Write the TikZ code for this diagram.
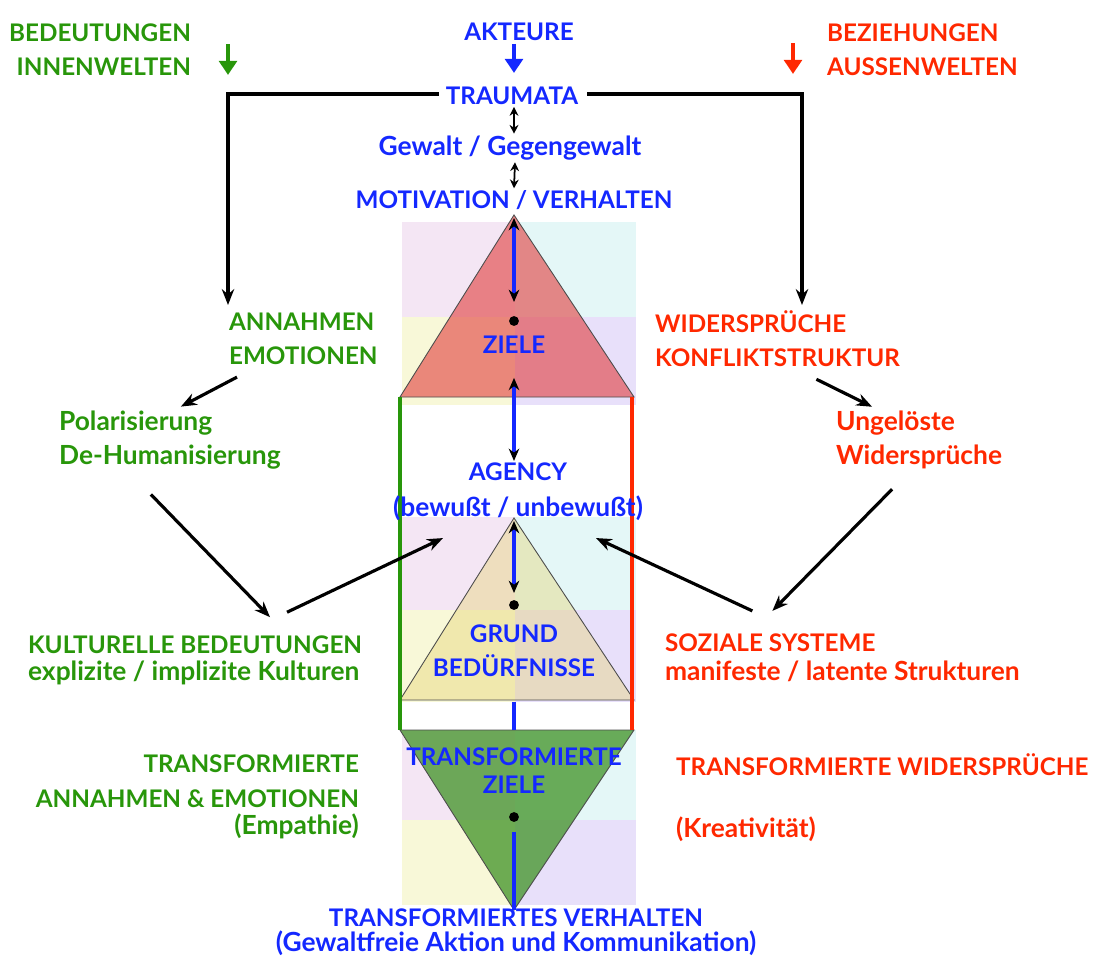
\documentclass[tikz,border=0pt]{standalone}
\usepackage{fontspec}
\setmainfont{Lato}
\usetikzlibrary{calc,arrows.meta}
\definecolor{gruen}{RGB}{40,150,10}
\definecolor{blau}{RGB}{20,40,255}
\definecolor{rot}{RGB}{255,40,0}
\definecolor{qrosa}{RGB}{244,230,244}
\definecolor{qcyan}{RGB}{228,247,247}
\definecolor{qgelb}{RGB}{248,248,216}
\definecolor{qlila}{RGB}{232,224,250}
\newcommand\gemischt{\fontsize{15}{19.5}\selectfont}
\tikzset{
    txt/.style={font=\fontsize{13.8}{19.5}\selectfont\bfseries,inner sep=1pt},
    gm/.style={font=\gemischt\bfseries},
    gr/.style={txt,text=gruen},
    bl/.style={txt,text=blau},
    rt/.style={txt,text=rot},
    pfeil/.style={line width=1.8pt,-{Stealth[length=9pt,width=7pt]}},
    kleinpfeil/.style={line width=1pt,{Stealth[length=5pt,width=5pt]}-{Stealth[length=5pt,width=5pt]}},
    blaupfeil/.style={blau,line width=1.9pt,{Stealth[black,length=7pt,width=6pt]}-{Stealth[black,length=7pt,width=6pt]}},
    farbpfeil/.style={line width=2.4pt,-{Triangle[length=8pt,width=10pt]}},
    dreieck/.style={draw=black!70,line width=0.5pt},
  }
\begin{document}
\begin{tikzpicture}[x=0.02cm,y=-0.02cm]
				  \useasboundingbox (0,0) rectangle (1093,960);
				  %Hintergrund Quadranten
				  \foreach \a/\b/\c in {222/317/405,517/610/702,730/820/905}{
				    \fill[qrosa] (402,\a) rectangle (515,\b);
				    \fill[qcyan] (515,\a) rectangle (636,\b);
				    \fill[qgelb] (402,\b) rectangle (515,\c);
				    \fill[qlila] (515,\b) rectangle (636,\c);
				  }
				  %Dreiecke
				  \coordinate (Z1) at (514,215); \coordinate (Z2) at (400,397); \coordinate (Z3) at (634,397);
				  \coordinate (G1) at (514,518); \coordinate (G2) at (400,700); \coordinate (G3) at (634,700);
				  \coordinate (T1) at (400,730); \coordinate (T2) at (634,730); \coordinate (T3) at (514,910);
				  \filldraw[dreieck,fill={rgb,255:red,225;green,60;blue,60},fill opacity=0.6] (Z1) -- (Z2) -- (Z3) -- cycle;
				  \filldraw[dreieck,fill={rgb,255:red,230;green,210;blue,110},fill opacity=0.4] (G1) -- (G2) -- (G3) -- cycle;
				  \filldraw[dreieck,fill={rgb,255:red,70;green,150;blue,45},fill opacity=0.78] (T1) -- (T2) -- (T3) -- cycle;
				  %Rechteck
				  \draw[gruen,line width=2pt] (Z2) -- (T1);
				  \draw[rot,line width=2pt] (632,397) -- (632,730);
				  \draw[blau,line width=1.9pt] (514,702) -- (514,730);
				  %Punkte
				  \coordinate (P1) at (514,321); \coordinate (P2) at (514,605); \coordinate (P3) at (514,817);
				  \foreach \p in {P1,P2,P3} \fill (\p) circle (2.8pt);
				  %Mitte
				  \node[bl] (akteure) at (519,32) {AKTEURE};
				  \node[bl] (traumata) at (512,96) {TRAUMATA};
				  \node[bl,gm] (gewalt) at (510,148) {Gewalt / Gegengewalt};
				  \node[bl] (motivation) at (514,200) {MOTIVATION / VERHALTEN};
				  \node[bl] (ziele) at (514,345) {ZIELE};
				  \node[bl,align=center] (agency) at (518,492) {AGENCY\\[1pt]\gemischt(bewußt / unbewußt)};
				  \node[bl,align=center] (grund) at (514,651) {GRUND\\BEDÜRFNISSE};
				  \node[bl,align=center] (transZ) at (514,771) {TRANSFORMIERTE\\[-3.5pt]ZIELE};
				  \node[bl,align=center] (transV) at (516,932) {TRANSFORMIERTES VERHALTEN\\[-5pt]\gemischt(Gewaltfreie Aktion und Kommunikation)};
				  %links
				  \node[gr,align=right,anchor=east] (bedeut) at (193,50) {BEDEUTUNGEN\\INNENWELTEN};
				  \node[gr,align=left,anchor=west] (annahmen) at (227,339) {ANNAHMEN\\EMOTIONEN};
				  \node[gr,gm,align=left,anchor=west] (polar) at (57,440) {Polarisierung\\De-Humanisierung};
				  \node[gr,align=left,anchor=west] (kultur) at (26,660) {KULTURELLE BEDEUTUNGEN\\[-4pt]\gemischt explizite / implizite Kulturen};
				  \node[gr,align=right,anchor=east] (transAE) at (361,797) {TRANSFORMIERTE\\ANNAHMEN \& EMOTIONEN\\[-4pt]\gemischt(Empathie)};
				  %rechts
				  \node[rt,align=left,anchor=west] (bezieh) at (825,50) {BEZIEHUNGEN\\AUSSENWELTEN};
				  \node[rt,align=left,anchor=west] (wider) at (653,339) {WIDERSPRÜCHE\\KONFLIKTSTRUKTUR};
				  \node[rt,gm,align=left,anchor=west] (ungel) at (834,440) {Ungelöste\\Widersprüche};
				  \node[rt,align=left,anchor=west] (sozial) at (663,658) {SOZIALE SYSTEME\\[-3pt]\gemischt manifeste / latente Strukturen};
				  \node[rt,anchor=west] (transW) at (674,765) {TRANSFORMIERTE WIDERSPRÜCHE};
				  \node[rt,gm,anchor=west] (kreativ) at (674,829) {(Kreativität)};
				  %kleine Farbpfeile
				  \draw[farbpfeil,gruen] (228,44) -- (228,75);
				  \draw[farbpfeil,rot] (793,43) -- (793,74);
				  \draw[farbpfeil,blau] ($(akteure.south)+(-5,1)$) -- (514,73);
				  %TRAUMATA Linien
				  \coordinate (linksEnde) at (228,305);
				  \coordinate (rechtsEnde) at (802,305);
				  \draw[pfeil] ($(traumata.west)+(-5,-2)$) -| (linksEnde);
				  \draw[pfeil] ($(traumata.east)+(7,-2)$) -| (rechtsEnde);
				  \draw[kleinpfeil] ($(traumata.south)+(2,0)$) -- ($(gewalt.north)+(4,0)$);
				  \draw[kleinpfeil] ($(gewalt.south)+(5,0)$) -- (motivation.north);
				  %blaue Pfeile
				  \draw[blaupfeil] ($(Z1)+(0,3)$) -- ($(P1)+(0,-19)$);
				  \draw[blaupfeil] ($(ziele.south)+(0,22)$) -- (ziele.south |- agency.north);
				  \draw[blaupfeil] ($(G1)+(0,3)$) -- ($(P2)+(0,-12)$);
				  \draw[blau,line width=1.9pt] ($(P3)+(0,15)$) -- (T3);
				  %schwarze Pfeile
				  \draw[pfeil] ($(annahmen.south west)+(10,10)$) -- ($(polar.north)+(11,-2)$);
				  \draw[pfeil] ($(polar.south)+(-19,23)$) -- ($(kultur.north)+(75,-16)$);
				  \draw[pfeil] ($(kultur.north)+(92,-21)$) -- ($(agency.south west)+(52,15)$);
				  \draw[pfeil] ($(wider.south)+(39,10)$) -- ($(ungel.north)+(-47,-2)$);
				  \draw[pfeil] ($(ungel.south)+(-27,18)$) -- ($(sozial.north)+(-70,-21)$);
				  \draw[pfeil] ($(sozial.north)+(-90,-21)$) -- ($(agency.south east)+(-49,15)$);
				  \end{tikzpicture}
\end{document}
